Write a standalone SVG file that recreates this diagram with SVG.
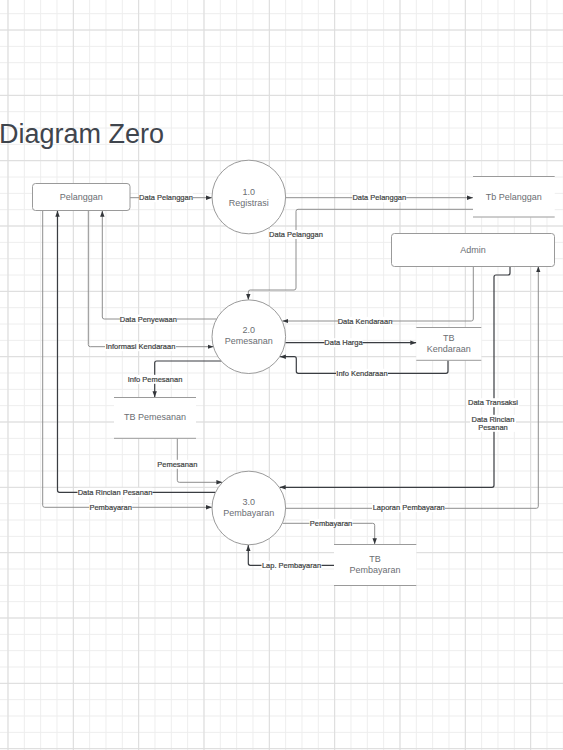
<svg xmlns="http://www.w3.org/2000/svg" width="563" height="750" viewBox="0 0 563 750">
<style>
.nt{font-family:"Liberation Sans",Arial,sans-serif;font-size:9px;fill:#6b6e73;text-anchor:middle}
.lt{font-family:"Liberation Sans",Arial,sans-serif;font-size:7.5px;fill:#3d3f42;stroke:#3d3f42;stroke-width:0.2;text-anchor:middle}
.lb{fill:#ffffff}
.box{fill:#ffffff;stroke:#9a9a9a;stroke-width:1}
.store{fill:#ffffff}
.sl{stroke:#9a9a9a;stroke-width:1;fill:none}
.cl{fill:none;stroke:#8e8e8e;stroke-width:1;stroke-linejoin:round;marker-end:url(#ah)}
.cd{fill:none;stroke:#3a3d42;stroke-width:1.2;stroke-linejoin:round;marker-end:url(#ah)}
</style>
<defs>
<pattern id="gmin" patternUnits="userSpaceOnUse" x="7.5" y="13.2" width="16.333" height="16.333">
<path d="M0.5,0 V16.333 M0,0.5 H16.333" stroke="#ededed" stroke-width="1" fill="none"/>
</pattern>
<pattern id="gmaj" patternUnits="userSpaceOnUse" x="7.5" y="29.5" width="65.333" height="65.333">
<path d="M0.5,0 V65.333 M0,0.5 H65.333" stroke="#dcdcdc" stroke-width="1" fill="none"/>
</pattern>
<marker id="ah" markerUnits="userSpaceOnUse" markerWidth="7" markerHeight="6" refX="6" refY="3" orient="auto">
<path d="M0,0.8 L6,3 L0,5.2 z" fill="#33363a"/>
</marker>
</defs>
<rect width="563" height="750" fill="#ffffff"/>
<rect width="563" height="750" fill="url(#gmin)"/>
<rect width="563" height="750" fill="url(#gmaj)"/>
<text x="-1" y="142.5" font-family="Liberation Sans, Arial, sans-serif" font-size="27" fill="#3f454d">Diagram Zero</text>

<g id="connectors">
<path class="cl" d="M130,197.7 H212"/>
<path class="cl" d="M285.7,197.7 H473"/>
<path class="cl" d="M473,209.3 H298 Q296,209.3 296,211.3 V288 Q296,290 294,290 H250.3 Q248.3,290 248.3,292 V299.9"/>
<path class="cl" d="M216.7,319 H104.3 Q102.3,319 102.3,317 V210.7"/>
<path class="cl" d="M88.3,210.7 V344.7 Q88.3,346.7 90.3,346.7 H213.6"/>
<path class="cd" d="M221.4,361 H156.7 Q154.7,361 154.7,363 V397.3"/>
<path class="cl" d="M473.3,266.3 V319 Q473.3,321 471.3,321 H282.3"/>
<path class="cd" d="M285.3,342.7 H416.3"/>
<path class="cd" d="M448,360.3 V371.3 Q448,373.3 446,373.3 H298.3 Q296.3,373.3 296.3,371.3 V358.7 Q296.3,356.7 294.3,356.7 H279.9"/>
<path class="cd" d="M510,266.3 V273 Q510,275 508,275 H496 Q494,275 494,277 V485.3 Q494,487.3 492,487.3 H279.7"/>
<path class="cl" d="M285.7,508.3 H536.3 Q538.3,508.3 538.3,506.3 V266.3"/>
<path class="cl" d="M177.3,438.3 V480.3 Q177.3,482.3 179.3,482.3 H222.4"/>
<path class="cd" d="M215.5,492.3 H59.5 Q57.5,492.3 57.5,490.3 V210.7"/>
<path class="cl" d="M42.7,210.7 V505.3 Q42.7,507.3 44.7,507.3 H212"/>
<path class="cl" d="M282.6,523.3 H372.7 Q374.7,523.3 374.7,525.3 V544.3"/>
<path class="cd" d="M334,565.3 H250.3 Q248.3,565.3 248.3,563.3 V545"/>

<rect class="lb" x="139" y="193.2" width="54" height="9"/><text class="lt" x="166" y="200.4">Data Pelanggan</text>
<rect class="lb" x="352.3" y="193.2" width="54" height="9"/><text class="lt" x="379.3" y="200.4">Data Pelanggan</text>
<rect class="lb" x="269" y="230" width="54" height="9"/><text class="lt" x="296" y="237.2">Data Pelanggan</text>
<rect class="lb" x="120" y="314.5" width="57" height="9"/><text class="lt" x="148.3" y="321.7">Data Penyewaan</text>
<rect class="lb" x="105" y="342.2" width="71" height="9"/><text class="lt" x="140.5" y="349.4">Informasi Kendaraan</text>
<rect class="lb" x="127.5" y="374.8" width="55" height="9"/><text class="lt" x="155" y="382">Info Pemesanan</text>
<rect class="lb" x="338" y="316.8" width="54" height="9"/><text class="lt" x="365" y="324">Data Kendaraan</text>
<rect class="lb" x="324.5" y="338.2" width="38" height="9"/><text class="lt" x="343.5" y="345.4">Data Harga</text>
<rect class="lb" x="336" y="368.8" width="52" height="9"/><text class="lt" x="362" y="376">Info Kendaraan</text>
<rect class="lb" x="467" y="398.2" width="52" height="9"/><text class="lt" x="493" y="405.4">Data Transaksi</text>
<rect class="lb" x="470" y="414.8" width="46" height="17"/><text class="lt" x="493" y="422">Data Rincian</text><text class="lt" x="493" y="430.4">Pesanan</text>
<rect class="lb" x="372" y="503.2" width="73" height="9"/><text class="lt" x="408.7" y="510.4">Laporan Pembayaran</text>
<rect class="lb" x="157" y="459.8" width="41" height="9"/><text class="lt" x="177.3" y="467">Pemesanan</text>
<rect class="lb" x="77.5" y="487.8" width="75" height="9"/><text class="lt" x="115" y="495">Data Rincian Pesanan</text>
<rect class="lb" x="89.2" y="502.8" width="43" height="9"/><text class="lt" x="110.7" y="510">Pembayaran</text>
<rect class="lb" x="309.5" y="518.8" width="43" height="9"/><text class="lt" x="331" y="526">Pembayaran</text>
<rect class="lb" x="261.5" y="560.8" width="60" height="9"/><text class="lt" x="291.5" y="568">Lap. Pembayaran</text>
</g>

<g id="pelanggan">
<rect class="box" x="32.5" y="183.5" width="97.5" height="27" rx="3"/>
<text class="nt" x="81.2" y="200.2">Pelanggan</text>
</g>
<g id="registrasi">
<circle class="box" cx="248.8" cy="197" r="36.8"/>
<text class="nt" x="248.8" y="194.7">1.0</text>
<text class="nt" x="248.8" y="205.7">Registrasi</text>
</g>
<g id="tb-pelanggan">
<rect class="store" x="473" y="176" width="81.7" height="41.3"/>
<path class="sl" d="M473,176.5 H554.7 M473,217 H554.7"/>
<text class="nt" x="513.8" y="200.2">Tb Pelanggan</text>
</g>
<g id="admin">
<rect class="box" x="391.5" y="233.5" width="163" height="33" rx="3"/>
<text class="nt" x="473" y="252.5">Admin</text>
</g>
<g id="pemesanan">
<circle class="box" cx="248.8" cy="336.7" r="36.8"/>
<text class="nt" x="248.8" y="333.3">2.0</text>
<text class="nt" x="248.8" y="344.3">Pemesanan</text>
</g>
<g id="tb-kendaraan">
<rect class="store" x="416.3" y="327.3" width="65" height="33"/>
<path class="sl" d="M416.3,327.5 H481.3 M416.3,360.3 H481.3"/>
<text class="nt" x="448.8" y="340.5">TB</text>
<text class="nt" x="448.8" y="351.5">Kendaraan</text>
</g>
<g id="tb-pemesanan">
<rect class="store" x="114" y="397.3" width="82" height="41"/>
<path class="sl" d="M114,397.5 H196 M114,438.3 H196"/>
<text class="nt" x="155" y="420.3">TB Pemesanan</text>
</g>
<g id="pembayaran">
<circle class="box" cx="248.8" cy="508" r="36.8"/>
<text class="nt" x="248.8" y="504.6">3.0</text>
<text class="nt" x="248.8" y="515.6">Pembayaran</text>
</g>
<g id="tb-pembayaran">
<rect class="store" x="334" y="544.3" width="82.3" height="41.4"/>
<path class="sl" d="M334,544.5 H416.3 M334,585.5 H416.3"/>
<text class="nt" x="375" y="561.5">TB</text>
<text class="nt" x="375" y="572.5">Pembayaran</text>
</g>
</svg>
